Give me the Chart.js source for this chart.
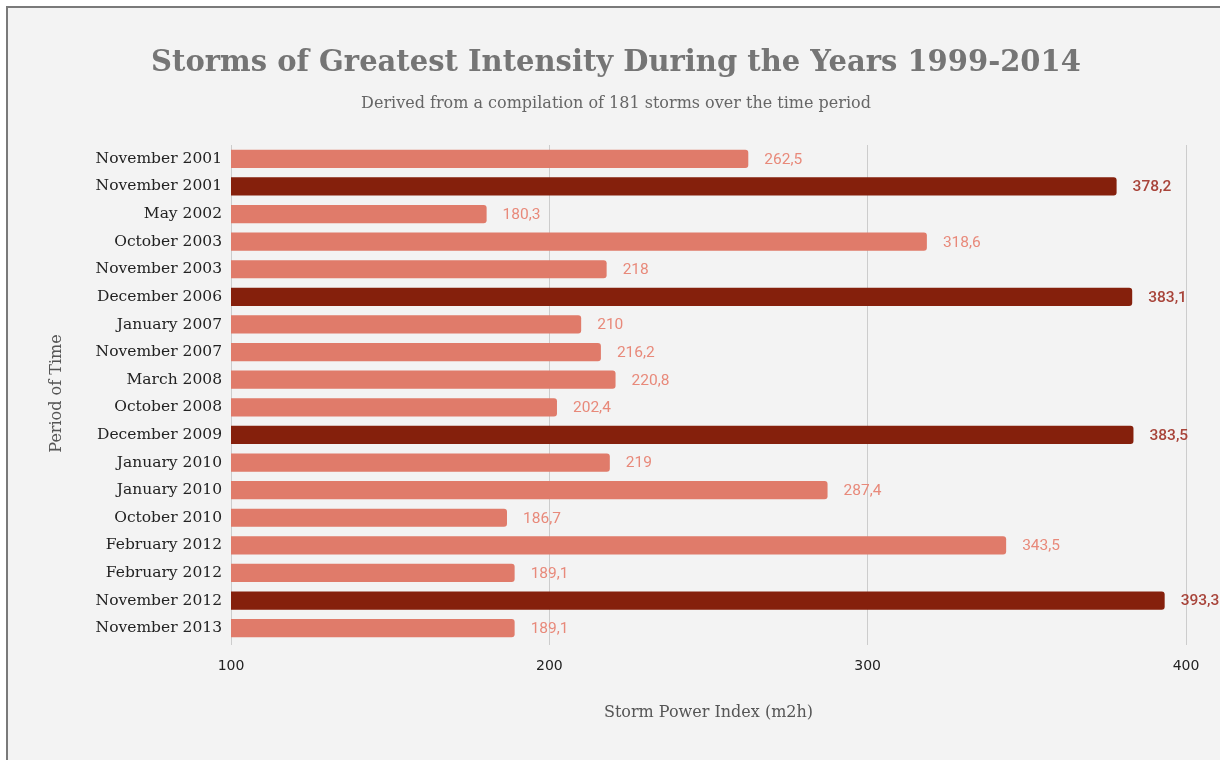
<!DOCTYPE html>
<html>
<head>
<meta charset="utf-8">
<script src="https://cdn.jsdelivr.net/npm/chart.js@4.4.1/dist/chart.umd.min.js"></script>
<style>
  html, body { margin: 0; padding: 0; background: #ffffff; overflow: hidden; }
  #box { position: relative; width: 1220px; height: 760px; }
</style>
</head>
<body>
<div id="box">
  <canvas id="myChart"></canvas>
</div>
<script>
const periods = [
  "November 2001", "November 2001", "May 2002", "October 2003", "November 2003",
  "December 2006", "January 2007", "November 2007", "March 2008", "October 2008",
  "December 2009", "January 2010", "January 2010", "October 2010", "February 2012",
  "February 2012", "November 2012", "November 2013",
];
const stormIndex = [
  262.5, 378.2, 180.3, 318.6, 218,
  383.1, 210, 216.2, 220.8, 202.4,
  383.5, 219, 287.4, 186.7, 343.5,
  189.1, 393.3, 189.1,
];
// the strongest storms get the dark bars
const strongest = [
  false, true, false, false, false,
  true, false, false, false, false,
  true, false, false, false, false,
  false, true, false,
];
const xTicks = [100, 200, 300, 400];

const lightBar = "#e07b6a";
const darkBar = "#85200c";
const lightLabel = "#e8897a";
const darkLabel = "#a8443a";

function fmt(v) {
  return String(v).replace(".", ",");
}

// grey panel with a rule along its top and left edges
const panel = {
  id: "panel",
  beforeDraw(chart) {
    const ctx = chart.ctx;
    ctx.save();
    ctx.fillStyle = "#ffffff";
    ctx.fillRect(0, 0, chart.width, chart.height);
    ctx.fillStyle = "#f3f3f3";
    ctx.fillRect(6, 6, chart.width, chart.height);
    ctx.fillStyle = "#7a7a7a";
    ctx.fillRect(6, 6, chart.width, 2);
    ctx.fillRect(6, 6, 2, chart.height);
    ctx.restore();
  },
};

// value labels to the right of each bar
const barLabels = {
  id: "barLabels",
  afterDatasetsDraw(chart) {
    const ctx = chart.ctx;
    const meta = chart.getDatasetMeta(0);
    ctx.save();
    ctx.textAlign = "left";
    ctx.textBaseline = "middle";
    meta.data.forEach((bar, i) => {
      ctx.font = (strongest[i] ? "500 " : "") + "15.5px Roboto";
      ctx.fillStyle = strongest[i] ? darkLabel : lightLabel;
      ctx.fillText(fmt(stormIndex[i]), bar.x + 16, bar.y + 1);
    });
    ctx.restore();
  },
};

var ctx = document.getElementById("myChart").getContext("2d");
var chart = new Chart(ctx, {
  type: "bar",
  data: {
    labels: periods,
    datasets: [
      {
        label: "Storm Power Index",
        data: stormIndex,
        backgroundColor: strongest.map((s) => (s ? darkBar : lightBar)),
        borderRadius: 3,
        borderSkipped: "start",
        barPercentage: 0.66,
        categoryPercentage: 1,
      },
    ],
  },
  plugins: [panel, barLabels],
  options: {
    indexAxis: "y",
    animation: { duration: 0 },
    responsive: true,
    maintainAspectRatio: false,
    layout: { padding: { left: 46, right: 34, top: 0, bottom: 0 } },
    plugins: {
      legend: { display: false },
      tooltip: { enabled: false },
      title: {
        display: true,
        text: "Storms of Greatest Intensity During the Years 1999-2014",
        color: "#757575",
        font: { family: "'DejaVu Serif'", size: 29, weight: "bold", lineHeight: 1.2 },
        padding: { top: 46, bottom: 13 },
      },
      subtitle: {
        display: true,
        text: "Derived from a compilation of 181 storms over the time period",
        color: "#666666",
        font: { family: "'DejaVu Serif'", size: 16, lineHeight: 1.2 },
        padding: { top: 0, bottom: 32 },
      },
    },
    scales: {
      x: {
        min: 100,
        max: 400,
        afterBuildTicks: (scale) => {
          scale.ticks = xTicks.map((v) => ({ value: v }));
        },
        afterFit: (scale) => {
          scale.height = 118;
        },
        grid: { color: "#cccccc", lineWidth: 1, drawTicks: true, tickLength: 3 },
        border: { display: false },
        ticks: {
          color: "#222222",
          padding: 13,
          font: { family: "'DejaVu Sans'", size: 14 },
        },
        title: {
          display: true,
          text: "Storm Power Index (m2h)",
          color: "#555555",
          font: { family: "'DejaVu Serif'", size: 16, lineHeight: 1.2 },
          padding: 38,
        },
      },
      y: {
        afterFit: (scale) => {
          scale.width = 185;
        },
        grid: { display: false, drawTicks: false },
        border: { display: false },
        ticks: {
          color: "#222222",
          padding: 9,
          font: { family: "'DejaVu Serif'", size: 15.5 },
        },
        title: {
          display: true,
          text: "Period of Time",
          color: "#555555",
          font: { family: "'DejaVu Serif'", size: 16, lineHeight: 1.2 },
          padding: 1,
        },
      },
    },
  },
});
</script>
</body>
</html>
